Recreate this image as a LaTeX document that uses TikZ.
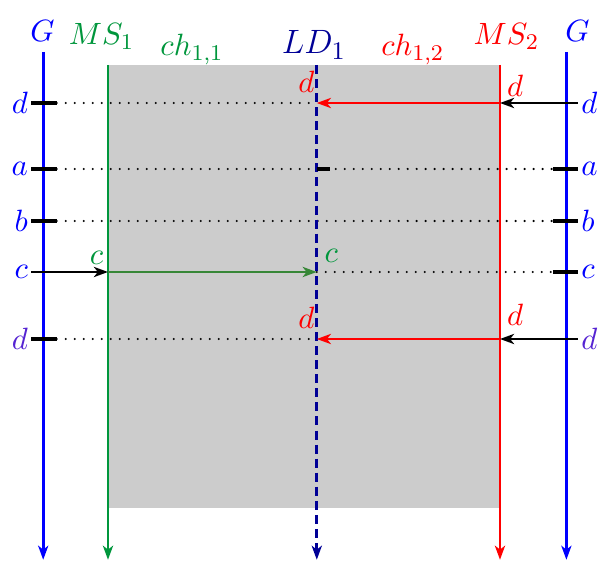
\documentclass[tikz,border=0pt]{standalone}
\usetikzlibrary{arrows.meta}

\definecolor{msgreen}{RGB}{0,150,60}
\definecolor{cgreen}{RGB}{55,135,55}
\definecolor{ldblue}{RGB}{0,0,150}
\definecolor{dviolet}{RGB}{85,35,210}

\tikzset{
  sarrow/.style={-{Stealth[length=5pt,width=3.6pt,inset=1.4pt]}},
  axis/.style={line width=1pt, sarrow},
  gtick/.style={line width=1.1pt, black},
  dotline/.style={line width=0.85pt, line cap=round, dash pattern=on 0pt off 3.2pt},
  msg/.style={line width=1pt, sarrow},
  rowlab/.style={inner sep=1pt}
}

\begin{document}
\begin{tikzpicture}[font=\fontsize{11}{13}\selectfont]
	% Define parameters
	\def\xGl{0.54}  % left G
	\def\xMSa{1.35} % MS_1
	\def\xLD{3.96}  % LD_1
	\def\xMSb{6.25} % MS_2
	\def\xGr{7.08}  % right G
	\def\ytop{6.225}
	\def\ybot{0.04}
	
	\useasboundingbox (0,0) rectangle (7.55,7.0375);
	
	% Channel area
	\fill[gray!40] (\xMSa,0.6875) rectangle (\xMSb,\ytop);
	
	% Columns
	\coordinate (Gl-top) at (\xGl,6.39);
	\coordinate (Gl-bot) at (\xGl,\ybot);
	\coordinate (MSa-top) at (\xMSa,\ytop);
	\coordinate (MSa-bot) at (\xMSa,\ybot);
	\coordinate (LD-top) at (\xLD,\ytop);
	\coordinate (LD-bot) at (\xLD,\ybot);
	\coordinate (MSb-top) at (\xMSb,\ytop);
	\coordinate (MSb-bot) at (\xMSb,\ybot);
	\coordinate (Gr-top) at (\xGr,6.39);
	\coordinate (Gr-bot) at (\xGr,\ybot);
	
	% Rows and tick ends
	\coordinate (rd1) at (0,5.75);
	\coordinate (ra) at (0,4.925);
	\coordinate (rb) at (0,4.275);
	\coordinate (rc) at (0,3.6375);
	\coordinate (rd2) at (0,2.8);
	\coordinate (tl-a) at (0.39,0);
	\coordinate (tl-b) at (0.71,0);
	\coordinate (tr-a) at (6.91,0);
	\coordinate (tr-b) at (7.225,0);
	
	% Headings
	\node[blue, anchor=base] (Gl-lab) at (0.53,6.5125) {$G$};
	\node[msgreen, anchor=base] (MSa-lab) at (1.27,6.475) {$MS_1$};
	\node[msgreen, anchor=base] (ch11) at (2.4,6.3375) {$ch_{1,1}$};
	\node[ldblue, anchor=base, font=\fontsize{13.2}{15}\selectfont] (LD-lab) at (3.925,6.3625) {$LD_1$};
	\node[red, anchor=base] (ch12) at (5.16,6.3375) {$ch_{1,2}$};
	\node[red, anchor=base] (MSb-lab) at (6.33,6.475) {$MS_2$};
	\node[blue, anchor=base] (Gr-lab) at (7.22,6.5125) {$G$};
	
	% Dotted lines
	\draw[dotline] (tl-b |- rd1) -- (LD-top |- rd1);
	\draw[dotline] (tl-b |- ra) -- (tr-a |- ra);
	\draw[dotline] (tl-b |- rb) -- (tr-a |- rb);
	\draw[dotline] (LD-top |- rc) -- (tr-a |- rc);
	\draw[dotline] (tl-b |- rd2) -- (LD-top |- rd2);
	
	% Vertical lines
	\draw[axis, blue] (Gl-top) -- (Gl-bot);
	\draw[axis, msgreen] (MSa-top) -- (MSa-bot);
	\draw[axis, ldblue, dash pattern=on 3.2pt off 1.8pt] (LD-top) -- (LD-bot);
	\draw[axis, red] (MSb-top) -- (MSb-bot);
	\draw[axis, blue] (Gr-top) -- (Gr-bot);
	
	% Ticks
	\foreach \r in {rd1,ra,rb,rd2}
		\draw[gtick] (tl-a |- \r) -- (tl-b |- \r);
	\foreach \r in {ra,rb,rc}
		\draw[gtick] (tr-a |- \r) -- (tr-b |- \r);
	\draw[gtick] (LD-top |- ra) -- ++(0.165,0);
	
	% Row labels
	\node[blue, rowlab, left] (Ld1) at (tl-a |- rd1) {$d$};
	\node[blue, rowlab, left] (La) at (tl-a |- ra) {$a$};
	\node[blue, rowlab, left] (Lb) at (tl-a |- rb) {$b$};
	\node[blue, rowlab, left] (Lc) at (tl-a |- rc) {$c$};
	\node[dviolet, rowlab, left] (Ld2) at (tl-a |- rd2) {$d$};
	\node[blue, rowlab, right] (Rd1) at (tr-b |- rd1) {$d$};
	\node[blue, rowlab, right] (Ra) at (tr-b |- ra) {$a$};
	\node[blue, rowlab, right] (Rb) at (tr-b |- rb) {$b$};
	\node[blue, rowlab, right] (Rc) at (tr-b |- rc) {$c$};
	\node[dviolet, rowlab, right] (Rd2) at (tr-b |- rd2) {$d$};
	
	% Messages
	\draw[msg, black] (tl-a |- rc) -- (MSa-top |- rc);
	\draw[msg, cgreen] (MSa-top |- rc) -- (LD-top |- rc);
	\draw[msg, black] (tr-b |- rd1) -- (MSb-top |- rd1);
	\draw[msg, red] (MSb-top |- rd1) -- (LD-top |- rd1);
	\draw[msg, black] (tr-b |- rd2) -- (MSb-top |- rd2);
	\draw[msg, red] (MSb-top |- rd2) -- (LD-top |- rd2);
	
	% Message labels
	\node[msgreen] (cMSa) at (1.206,3.82) {$c$};
	\node[msgreen] (cLD) at (4.14,3.84) {$c$};
	\node[red] (dLD1) at (3.83,6.0125) {$d$};
	\node[red] (dMSb1) at (6.44,5.97) {$d$};
	\node[red] (dLD2) at (3.83,3.0625) {$d$};
	\node[red] (dMSb2) at (6.44,3.1) {$d$};
	
\end{tikzpicture}
\end{document}
